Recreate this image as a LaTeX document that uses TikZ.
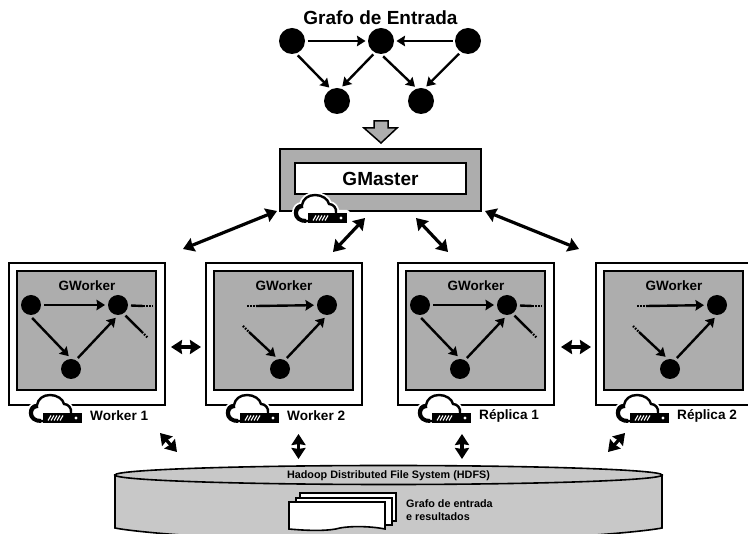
\documentclass[tikz,border=0pt]{standalone}
\usepackage{fontspec}
\setmainfont{Liberation Sans}
\usetikzlibrary{arrows.meta}

\definecolor{boxgray}{HTML}{ADADAD}
\definecolor{diskgray}{HTML}{C8C8C8}

\newcommand{\px}[1]{\bfseries\fontsize{#1}{#1}\selectfont}

\tikzset{
    vertex/.style={circle, fill=black, inner sep=0pt, minimum size=26pt, outer sep=2.5pt},
    smallvertex/.style={circle, fill=black, inner sep=0pt, minimum size=20pt, outer sep=3pt},
    edge/.style={line width=2.4pt, -{Stealth[length=8.5pt, width=10.5pt, inset=1pt]}},
    stub/.style={line width=2.4pt},
    dots/.style={line width=2.2pt, dash pattern=on 1.5pt off 1.5pt},
    link/.style={line width=3.2pt, {Stealth[length=11pt, width=14pt, inset=1pt]}-{Stealth[length=11pt, width=14pt, inset=1pt]}},
    framebox/.style={draw=black, line width=1.8pt, fill=white, anchor=north west, inner sep=0pt, outer sep=0pt},
    graybox/.style={draw=black, line width=1.8pt, fill=boxgray, anchor=north west, inner sep=0pt, outer sep=0pt},
    page/.style={draw=black, line width=1.6pt, fill=white},
    pics/cloudserver/.style={code={
        \path[draw=white, line width=6pt, fill=white, line join=round] (16,28) .. controls (8,29) and (3,25) .. (3,20) .. controls (3,15) and (6,12) .. (10,12) .. controls (11,6) and (16,2) .. (23,2) .. controls (30,2) and (36,6) .. (37,11) .. controls (41,11) and (45,15) .. (44,20) -- (55,20) -- (55,30) -- (16,30) -- cycle;
        \draw[line width=2.4pt, fill=white] (16,28) .. controls (8,29) and (3,25) .. (3,20) .. controls (3,15) and (6,12) .. (10,12) .. controls (11,6) and (16,2) .. (23,2) .. controls (30,2) and (36,6) .. (37,11) .. controls (41,11) and (45,15) .. (44,20);
        \draw[line width=4pt] (14,28) .. controls (8,28) and (4,25) .. (4,20) .. controls (4,16) and (7,13) .. (11,13);
        \fill[black] (16,20) rectangle (55,30);
        \foreach \s in {21,24,27,30,33} {
            \draw[white, line width=1.1pt] (\s,27.5) -- ({\s+3},22.5);
        }
        \fill[white] (49,25) circle (1.6pt);
    }}
}

\begin{document}
\begin{tikzpicture}[x=1pt, y=-1pt]
    \clip (0,0) rectangle (748,534);

    % input graph
    \node[font=\px{19}] (title) at (380.5,18) {Grafo de Entrada};
    \node[vertex] (in1) at (292,41) {};
    \node[vertex] (in2) at (381,41) {};
    \node[vertex] (in3) at (468,41) {};
    \node[vertex] (in4) at (337,101) {};
    \node[vertex] (in5) at (421,101) {};

    \draw[edge] (in1) -- (in2);
    \draw[edge] (in3) -- (in2);
    \draw[edge] (in1.-68) -- (in4.120);
    \draw[edge] (in2.-120) -- (in4.70);
    \draw[edge] (in2.-82) -- (in5.113);
    \draw[edge] (in3.-125) -- (in5.70);

    \draw[line width=1.5pt, fill=boxgray] (374,121) -- (388,121) -- (388,128) -- (397,128) -- (381,143) -- (364,128) -- (374,128) -- cycle;

    % master
    \node[graybox, minimum width=201pt, minimum height=62pt] (master) at (280,149) {};
    \node[framebox, minimum width=171pt, minimum height=31pt, font=\px{19}] (gmaster) at (295,163) {GMaster};
    \pic at (292,193) {cloudserver};

    % workers
    \foreach \n/\x/\lbl in {w1/9/Worker 1, r1/398/Réplica 1} {
        \node[framebox, minimum width=156pt, minimum height=142pt] (\n-frame) at (\x,263) {};
        \node[graybox, minimum width=139pt, minimum height=119pt] (\n-box) at ({\x+8},271) {};
        \node[font=\px{13.5}] (\n-title) at ({\x+78},286) {GWorker};
        \node[smallvertex] (\n-a) at ({\x+22},305) {};
        \node[smallvertex] (\n-b) at ({\x+109},305) {};
        \node[smallvertex] (\n-c) at ({\x+62},369) {};
        \coordinate (\n-s1) at ({\x+134},306);
        \coordinate (\n-s2) at ({\x+144},306);
        \coordinate (\n-s3) at ({\x+133},332);
        \coordinate (\n-s4) at ({\x+139},338);
        \draw[edge] (\n-a) -- (\n-b);
        \draw[edge] (\n-a.-85) -- (\n-c.100);
        \draw[edge] (\n-c.58) -- (\n-b.-100);
        \draw[stub] (\n-b) -- (\n-s1);
        \draw[dots] (\n-s1) -- (\n-s2);
        \draw[stub] (\n-b.-55) -- (\n-s3);
        \draw[dots] (\n-s3) -- (\n-s4);
        \pic at ({\x+18},393) {cloudserver};
        \node[font=\px{13.6}, anchor=west, inner sep=0pt] (\n-label) at ({\x+81},416) {\lbl};
    }
    \foreach \n/\x/\lbl in {w2/206/Worker 2, r2/596/Réplica 2} {
        \node[framebox, minimum width=156pt, minimum height=142pt] (\n-frame) at (\x,263) {};
        \node[graybox, minimum width=139pt, minimum height=119pt] (\n-box) at ({\x+8},271) {};
        \node[font=\px{13.5}] (\n-title) at ({\x+78},286) {GWorker};
        \node[smallvertex] (\n-b) at ({\x+121},305) {};
        \node[smallvertex] (\n-c) at ({\x+74},369) {};
        \coordinate (\n-s1) at ({\x+41},306);
        \coordinate (\n-s2) at ({\x+50},306);
        \coordinate (\n-s3) at ({\x+37},326);
        \coordinate (\n-s4) at ({\x+43},332);
        \draw[dots] (\n-s1) -- (\n-s2);
        \draw[edge] (\n-s2) -- (\n-b);
        \draw[dots] (\n-s3) -- (\n-s4);
        \draw[edge] (\n-s4) -- (\n-c.110);
        \draw[edge] (\n-c.58) -- (\n-b.-100);
        \pic at ({\x+18},393) {cloudserver};
        \node[font=\px{13.6}, anchor=west, inner sep=0pt] (\n-label) at ({\x+81},416) {\lbl};
    }

    % disk
    \draw[line width=1.6pt, fill=diskgray] (115,475) -- (115,528) .. controls (140,533) and (250,542) .. (388,542) .. controls (526,542) and (636,533) .. (662,528) -- (662,475) -- cycle;
    \draw[line width=1.6pt, fill=diskgray] (388.5,475) ellipse [x radius=273.5, y radius=9.5];
    \node[font=\px{10.8}] (hdfs) at (388.5,475.5) {Hadoop Distributed File System (HDFS)};

    \draw[page] (300,493) rectangle (396,521);
    \draw[page] (296,498) rectangle (392,525);
    \draw[page] (289,502) -- (385,502) -- (385,529) .. controls (370,526) and (350,526) .. (340,528) .. controls (330,531) and (310,531) .. (289,529) -- cycle;
    \node[font=\px{10.8}, anchor=west, align=left, inner sep=0pt] (files) at (406,510.5) {Grafo de entrada\\[2.2pt]e resultados};

    % links
    \coordinate (mw1) at (277,211);
    \coordinate (mw2) at (365,218);
    \coordinate (mr1) at (416,218);
    \coordinate (mr2) at (485,211);
    \coordinate (lw1) at (183,249);
    \coordinate (lw2) at (333,252);
    \coordinate (lr1) at (448,252);
    \coordinate (lr2) at (579,249);
    \draw[link] (lw1) -- (mw1);
    \draw[link] (lw2) -- (mw2);
    \draw[link] (lr1) -- (mr1);
    \draw[link] (lr2) -- (mr2);

    \coordinate (ww1) at (171,347);
    \coordinate (ww2) at (201,347);
    \coordinate (rr1) at (561,347);
    \coordinate (rr2) at (591,347);
    \draw[link] (ww1) -- (ww2);
    \draw[link] (rr1) -- (rr2);

    \coordinate (dw1a) at (160,433);
    \coordinate (dw1b) at (177,452);
    \coordinate (dw2a) at (298.5,434);
    \coordinate (dw2b) at (298.5,459);
    \coordinate (dr1a) at (462,434);
    \coordinate (dr1b) at (462,459);
    \coordinate (dr2a) at (625,433);
    \coordinate (dr2b) at (608,452);
    \draw[link] (dw1a) -- (dw1b);
    \draw[link] (dw2a) -- (dw2b);
    \draw[link] (dr1a) -- (dr1b);
    \draw[link] (dr2a) -- (dr2b);
\end{tikzpicture}
\end{document}
